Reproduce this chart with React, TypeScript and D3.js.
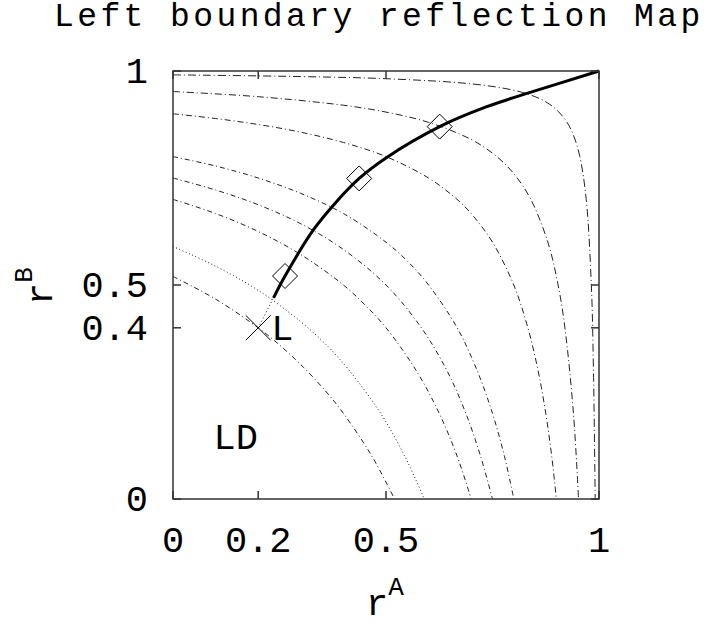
import React from "react";
import * as d3 from "d3";

// ---- data ----
const titleText = "Left boundary reflection Map";
const xTicks = [0, 0.2, 0.5, 1];
const yTicks = [0, 0.4, 0.5, 1];

// thin reflection-map curves, [rA, rB]
const curveA: [number, number][] = [[0, 0.52], [0.1, 0.467], [0.2, 0.4], [0.25, 0.36], [0.307, 0.307], [0.36, 0.25], [0.4, 0.2], [0.467, 0.1], [0.52, 0]];
const curveB: [number, number][] = [[0, 0.59], [0.1, 0.544], [0.2, 0.4875], [0.3, 0.414], [0.36, 0.36], [0.414, 0.3], [0.4875, 0.2], [0.544, 0.1], [0.59, 0]];
const curveC: [number, number][] = [[0, 0.7], [0.1, 0.667], [0.2, 0.625], [0.3, 0.571], [0.4, 0.5], [0.452, 0.452], [0.5, 0.4], [0.571, 0.3], [0.625, 0.2], [0.667, 0.1], [0.7, 0]];
const curveD: [number, number][] = [[0, 0.75], [0.1, 0.722], [0.2, 0.6875], [0.3, 0.643], [0.4, 0.583], [0.5, 0.5], [0.583, 0.4], [0.643, 0.3], [0.6875, 0.2], [0.722, 0.1], [0.75, 0]];
const curveE: [number, number][] = [[0, 0.8], [0.1, 0.778], [0.2, 0.75], [0.3, 0.714], [0.4, 0.667], [0.5, 0.6], [0.553, 0.553], [0.6, 0.5], [0.667, 0.4], [0.714, 0.3], [0.75, 0.2], [0.778, 0.1], [0.8, 0]];
const curveF: [number, number][] = [[0, 0.9], [0.1, 0.889], [0.2, 0.875], [0.3, 0.857], [0.4, 0.833], [0.5, 0.8], [0.6, 0.75], [0.65, 0.714], [0.684, 0.684], [0.714, 0.65], [0.75, 0.6], [0.8, 0.5], [0.833, 0.4], [0.857, 0.3], [0.875, 0.2], [0.889, 0.1], [0.9, 0]];
const curveG: [number, number][] = [[0, 0.952], [0.2, 0.94], [0.4, 0.92], [0.5, 0.904], [0.6, 0.88], [0.7, 0.84], [0.75, 0.808], [0.781, 0.781], [0.808, 0.75], [0.84, 0.7], [0.88, 0.6], [0.904, 0.5], [0.92, 0.4], [0.94, 0.2], [0.952, 0]];
const curveH: [number, number][] = [[0, 0.991], [0.3, 0.987], [0.5, 0.982], [0.7, 0.97], [0.8, 0.955], [0.85, 0.94], [0.88, 0.925], [0.905, 0.905], [0.925, 0.88], [0.94, 0.85], [0.955, 0.8], [0.97, 0.7], [0.982, 0.5], [0.987, 0.3], [0.991, 0]];

// thick boundary curve
const boundary: [number, number][] = [[0.236, 0.47], [0.263, 0.521], [0.329, 0.628], [0.376, 0.686], [0.437, 0.749], [0.5, 0.797], [0.626, 0.87], [0.735, 0.916], [0.829, 0.947], [1, 1]];
const boundaryExt: [number, number][] = [[0.2, 0.4], [0.236, 0.47]];
const diamonds: [number, number][] = [[0.263, 0.521], [0.437, 0.749], [0.626, 0.87]];
const pointL: [number, number] = [0.2, 0.4];
const labelLD: [number, number] = [0.1, 0.145];

const thinCurves = [curveA, curveB, curveC, curveD, curveE, curveF, curveG, curveH];
const thinDash = ["5,3,1,3", "1,2.5", "5,3,1,3", "5,3,1,3", "5,3,1,3", "6,3,1,3", "7,3,1,3", "8,3,1,3"];

const W = 723, H = 626;
const FONT = "'Liberation Mono', 'DejaVu Sans Mono', monospace";

export default function App() {
  const x = d3.scaleLinear().domain([0, 1]).range([173, 599]);
  const y = d3.scaleLinear().domain([0, 1]).range([499, 71]);
  const line = d3.line<[number, number]>().x(d => x(d[0])).y(d => y(d[1])).curve(d3.curveCatmullRom.alpha(0.5));
  const straight = d3.line<[number, number]>().x(d => x(d[0])).y(d => y(d[1]));
  const tl = 8;
  const fs = 37;
  const sup = 26;
  return (
    <svg width={W} height={H} style={{ position: "absolute", left: 0, top: 0, background: "#fff" }} fontFamily={FONT}>
      <rect x={0} y={0} width={W} height={H} fill="#fff" />
      <text x={54} y={26} fontSize={33} letterSpacing={3.4} fill="#000">{titleText}</text>

      {thinCurves.map((c, i) => (
        <path key={i} d={line(c) || ""} fill="none" stroke="#222" strokeWidth={1} strokeDasharray={thinDash[i]} />
      ))}

      <path d={straight(boundaryExt) || ""} fill="none" stroke="#222" strokeWidth={1} strokeDasharray="1,2.5" />
      <path d={line(boundary) || ""} fill="none" stroke="#000" strokeWidth={3} />

      {diamonds.map((d, i) => {
        const cx = x(d[0]), cy = y(d[1]), r = 12.5;
        return <path key={i} d={`M${cx - r},${cy}L${cx},${cy - r}L${cx + r},${cy}L${cx},${cy + r}Z`} fill="none" stroke="#000" strokeWidth={1} />;
      })}

      {(() => {
        const cx = x(pointL[0]), cy = y(pointL[1]), r = 12.5;
        return <path d={`M${cx - r},${cy - r}L${cx + r},${cy + r}M${cx - r},${cy + r}L${cx + r},${cy - r}`} stroke="#000" strokeWidth={1} />;
      })()}
      <text x={x(pointL[0]) + 13} y={y(pointL[1]) + 12} fontSize={fs} fill="#000">L</text>
      <text x={x(labelLD[0]) - 2} y={y(labelLD[1]) + 12} fontSize={fs} fill="#000">LD</text>

      {/* frame */}
      <rect x={x(0)} y={y(1)} width={x(1) - x(0)} height={y(0) - y(1)} fill="none" stroke="#333" strokeWidth={1.5} />
      {xTicks.map((t, i) => (
        <g key={"xt" + i}>
          <line x1={x(t)} x2={x(t)} y1={y(0)} y2={y(0) - tl} stroke="#333" strokeWidth={1.5} />
          <line x1={x(t)} x2={x(t)} y1={y(1)} y2={y(1) + tl} stroke="#333" strokeWidth={1.5} />
          <text x={x(t)} y={552} fontSize={fs} textAnchor="middle" fill="#000">{String(t)}</text>
        </g>
      ))}
      {yTicks.map((t, i) => (
        <g key={"yt" + i}>
          <line x1={x(0)} x2={x(0) + tl} y1={y(t)} y2={y(t)} stroke="#333" strokeWidth={1.5} />
          <line x1={x(1)} x2={x(1) - tl} y1={y(t)} y2={y(t)} stroke="#333" strokeWidth={1.5} />
          <text x={148} y={y(t) + 12} fontSize={fs} textAnchor="end" fill="#000">{String(t)}</text>
        </g>
      ))}

      <text x={366} y={615} fontSize={fs} fill="#000">r<tspan dy={-20} fontSize={sup}>A</tspan></text>
      <text transform="translate(52,305) rotate(-90)" fontSize={fs} fill="#000">r<tspan dy={-20} fontSize={sup}>B</tspan></text>
    </svg>
  );
}
